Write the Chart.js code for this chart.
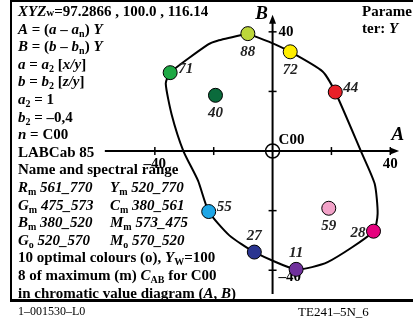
<!DOCTYPE html>
<html>
<head>
<meta charset="utf-8">
<script src="https://cdn.jsdelivr.net/npm/chart.js@4.4.1/dist/chart.umd.min.js"></script>
<style>
  html, body { margin:0; padding:0; background:#fff; }
  #wrap { position:relative; width:413px; height:325px; overflow:hidden; }
  #c { position:absolute; left:0; top:0; }
  .txt { position:absolute; font-family:"Liberation Serif","Times New Roman",serif; font-weight:bold; font-size:15px; color:#000; white-space:nowrap; line-height:17px; }
  .txt i { font-style:italic; }
  .sb { font-size:10px; position:relative; top:3px; }
  .sw { font-size:11px; }
  .foot { position:absolute; font-family:"Liberation Serif","Times New Roman",serif; font-size:12px; color:#000; white-space:nowrap; }
</style>
</head>
<body>
<div id="wrap">
<canvas id="c" width="413" height="325"></canvas>
<div id="left"></div>
<div class="txt" style="left:362px;top:3px;">Parame</div>
<div class="txt" style="left:362px;top:20px;">ter: <i>Y</i></div>
<div class="foot" style="left:18px;top:304px;">1–001530–L0</div>
<div class="foot" style="left:298px;top:304px;font-size:13px;">TE241–5N_6</div>
</div>
<script>
// ---- data ----
const pointLabels = ['88','72','44','71','40','55','27','11','28','59'];
const pointA = [-8.4, 6.0, 21.3, -34.8, -19.4, -21.7, -6.2, 8.0, 34.3, 19.1];
const pointB = [39.4, 33.3, 19.8, 26.3, 18.7, -20.3, -33.9, -39.7, -26.9, -19.2];
const pointColors = ['#bcd63a','#ffee00','#e82028','#1ea844','#0b6b3c','#1ea6e6','#2b3590','#70309c','#e6007e','#f2a2c8'];
const labelPos = ['below','below','right','right','below','right','above','above','left','below'];
const curveA = [-8.4, -1.3, 6.0, 17.0, 21.3, 30.0, 34.7, 35.7, 34.3, 18.7, 8.0, -6.2, -14.7, -21.7, -25.3, -30.3, -34.3, -36.3, -34.8, -22.0, -18.7, -8.4];
const curveB = [39.4, 36.7, 33.3, 26.7, 19.8, 0.0, -11.0, -21.0, -27.0, -37.3, -39.7, -33.9, -28.3, -20.3, -10.0, 0.0, 12.3, 22.7, 26.3, 35.7, 37.0, 39.4];
const tickValues = [-40, -20, 20, 40];
const tickLabelValues = [-40, 40];

const leftLines = [
  '<i>XYZ</i><span class="sw">w</span>=97.2866 , 100.0 , 116.14',
  '<i>A</i> = (<i>a</i> – <i>a</i><span class="sb">n</span>) <i>Y</i>',
  '<i>B</i> = (<i>b</i> – <i>b</i><span class="sb">n</span>) <i>Y</i>',
  '<i>a</i> = <i>a</i><span class="sb">2</span> [<i>x/y</i>]',
  '<i>b</i> = <i>b</i><span class="sb">2</span> [<i>z/y</i>]',
  '<i>a</i><span class="sb">2</span> = 1',
  '<i>b</i><span class="sb">2</span> = –0,4',
  '<i>n</i> = C00',
  'LABCab 85',
  'Name and spectral range',
  '<i>R</i><span class="sb">m</span> <i>561_770</i>',
  '<i>G</i><span class="sb">m</span> <i>475_573</i>',
  '<i>B</i><span class="sb">m</span> <i>380_520</i>',
  '<i>G</i><span class="sb">o</span> <i>520_570</i>',
  '10 optimal colours (o), <i>Y</i><span class="sb">W</span>=100',
  '8 of maximum (m) <i>C</i><span class="sb">AB</span> for C00',
  'in chromatic value diagram (<i>A</i>, <i>B</i>)'
];
const rightCol = {10:'<i>Y</i><span class="sb">m</span> <i>520_770</i>', 11:'<i>C</i><span class="sb">m</span> <i>380_561</i>', 12:'<i>M</i><span class="sb">m</span> <i>573_475</i>', 13:'<i>M</i><span class="sb">o</span> <i>570_520</i>'};

const left = document.getElementById('left');
leftLines.forEach((h, i) => {
  const d = document.createElement('div');
  d.className = 'txt';
  d.style.left = '18px';
  d.style.top = (3 + i * 17.6) + 'px';
  d.innerHTML = h;
  left.appendChild(d);
  if (rightCol[i]) {
    const e = document.createElement('div');
    e.className = 'txt';
    e.style.left = '110px';
    e.style.top = (3 + i * 17.6) + 'px';
    e.innerHTML = rightCol[i];
    left.appendChild(e);
  }
});

const axesPlugin = {
  id: 'axesPlugin',
  beforeDatasetsDraw(chart) {
    const ctx = chart.ctx, xs = chart.scales.x, ys = chart.scales.y;
    const X = v => xs.getPixelForValue(v), Y = v => ys.getPixelForValue(v);
    const x0 = X(0), y0 = Y(0);
    ctx.save();
    ctx.strokeStyle = '#000'; ctx.fillStyle = '#000'; ctx.lineWidth = 2;
    // A axis
    const ax1 = X(-57), ax2 = X(43);
    ctx.beginPath(); ctx.moveTo(ax1, y0); ctx.lineTo(ax2 - 6, y0); ctx.stroke();
    ctx.beginPath(); ctx.moveTo(ax2, y0); ctx.lineTo(ax2 - 9, y0 - 3.5); ctx.lineTo(ax2 - 9, y0 + 3.5); ctx.closePath(); ctx.fill();
    // B axis
    const by1 = Y(-48), by2 = Y(45.7);
    ctx.beginPath(); ctx.moveTo(x0, by1); ctx.lineTo(x0, by2 + 6); ctx.stroke();
    ctx.beginPath(); ctx.moveTo(x0, by2); ctx.lineTo(x0 - 3.5, by2 + 9); ctx.lineTo(x0 + 3.5, by2 + 9); ctx.closePath(); ctx.fill();
    // ticks
    ctx.lineWidth = 1.5;
    tickValues.forEach(v => {
      ctx.beginPath(); ctx.moveTo(X(v), y0 - 4); ctx.lineTo(X(v), y0 + 4); ctx.stroke();
      ctx.beginPath(); ctx.moveTo(x0 - 4, Y(v)); ctx.lineTo(x0 + 4, Y(v)); ctx.stroke();
    });
    // tick labels
    ctx.font = 'bold 15px "Liberation Serif", serif';
    ctx.textBaseline = 'middle';
    tickLabelValues.forEach(v => {
      const t = v < 0 ? '–' + Math.abs(v) : String(v);
      ctx.textAlign = 'center';
      ctx.fillText(t, X(v), y0 + 13);
      ctx.textAlign = 'left';
      ctx.fillText(t, x0 + 6, Y(v) + (v < 0 ? 7 : 0));
    });
    ctx.textAlign = 'left';
    ctx.fillText('C00', x0 + 6, y0 - 11);
    ctx.font = 'bold italic 19px "Liberation Serif", serif';
    ctx.textAlign = 'center';
    ctx.fillText('A', X(42.6), y0 - 16);
    ctx.fillText('B', x0 - 11, Y(45.8));
    // origin circle
    ctx.lineWidth = 1.5;
    ctx.beginPath(); ctx.arc(x0, y0, 7, 0, Math.PI * 2); ctx.stroke();
    ctx.restore();
  },
  afterDatasetsDraw(chart) {
    const ctx = chart.ctx, xs = chart.scales.x, ys = chart.scales.y;
    ctx.save();
    ctx.font = 'bold italic 15px "Liberation Serif", serif';
    ctx.fillStyle = '#222';
    ctx.textBaseline = 'middle';
    pointLabels.forEach((t, i) => {
      const px = xs.getPixelForValue(pointA[i]), py = ys.getPixelForValue(pointB[i]);
      const p = labelPos[i];
      if (p === 'below') { ctx.textAlign = 'center'; ctx.fillText(t, px, py + 18); }
      else if (p === 'above') { ctx.textAlign = 'center'; ctx.fillText(t, px, py - 16); }
      else if (p === 'right') { ctx.textAlign = 'left'; ctx.fillText(t, px + 8, py - 4); }
      else { ctx.textAlign = 'right'; ctx.fillText(t, px - 8, py + 2); }
    });
    ctx.restore();
  },
  afterDraw(chart) {
    const ctx = chart.ctx;
    ctx.save();
    ctx.strokeStyle = '#000';
    ctx.lineWidth = 2;
    ctx.beginPath(); ctx.moveTo(11, 1); ctx.lineTo(413, 1); ctx.stroke();
    ctx.beginPath(); ctx.moveTo(11, 0); ctx.lineTo(11, 301); ctx.stroke();
    ctx.lineWidth = 3;
    ctx.beginPath(); ctx.moveTo(10, 300.5); ctx.lineTo(413, 300.5); ctx.stroke();
    ctx.restore();
  }
};

new Chart(document.getElementById('c'), {
  type: 'scatter',
  data: {
    datasets: [
      {
        data: pointA.map((a, i) => ({x: a, y: pointB[i]})),
        pointRadius: 7, pointHoverRadius: 7,
        pointBackgroundColor: pointColors, pointBorderColor: '#000', pointBorderWidth: 1,
        showLine: false, clip: false
      },
      {
        data: curveA.map((a, i) => ({x: a, y: curveB[i]})),
        showLine: true, pointRadius: 0, borderColor: '#000', borderWidth: 2,
        tension: 0.2, fill: false, clip: false
      }
    ]
  },
  options: {
    responsive: false, animation: false, devicePixelRatio: 1,
    layout: { padding: { left: 96, right: 2, top: 6, bottom: 19 } },
    plugins: { legend: { display: false }, tooltip: { enabled: false } },
    events: [],
    scales: {
      x: { type: 'linear', min: -60, max: 45, display: false },
      y: { type: 'linear', min: -52, max: 48, display: false }
    }
  },
  plugins: [axesPlugin]
});
</script>
</body>
</html>
